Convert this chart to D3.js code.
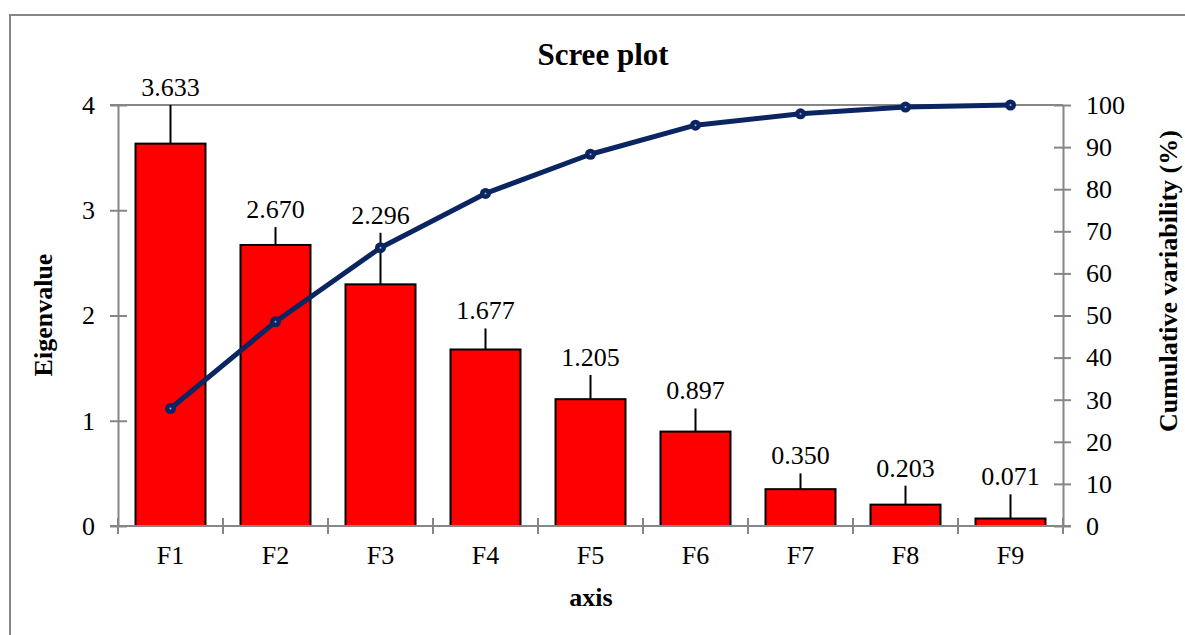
<!DOCTYPE html>
<html>
<head>
<meta charset="utf-8">
<script src="https://cdn.jsdelivr.net/npm/d3@7"></script>
<style>
  html, body { margin: 0; padding: 0; background: #fff; }
  svg { display: block; font-family: 'Liberation Serif', 'Times New Roman', serif; }
  .axis text { font-family: 'Liberation Serif', 'Times New Roman', serif; font-size: 26px; fill: #000; }
  .axis path, .axis line { stroke: #868686; stroke-width: 2; }
</style>
</head>
<body>
<svg id="chart" width="1185" height="635"></svg>
<script>
// Data
const factors = ['F1', 'F2', 'F3', 'F4', 'F5', 'F6', 'F7', 'F8', 'F9'];
const eigenvalues = [3.633, 2.670, 2.296, 1.677, 1.205, 0.897, 0.350, 0.203, 0.071];
const errorPlus = [0.367, 0.17, 0.49, 0.20, 0.23, 0.22, 0.15, 0.18, 0.23];
const cumulative = [27.9, 48.5, 66.1, 79.0, 88.3, 95.2, 97.9, 99.5, 100];
const leftTicks = [0, 1, 2, 3, 4];
const rightTicks = [0, 10, 20, 30, 40, 50, 60, 70, 80, 90, 100];

const svg = d3.select('#chart');

// outer frame (runs off the right and bottom edges)
svg.append('rect')
  .attr('x', 10).attr('y', 15)
  .attr('width', 1200).attr('height', 640)
  .attr('fill', 'none')
  .attr('stroke', '#868686')
  .attr('stroke-width', 2);

const plot = { left: 118, right: 1063, top: 105, bottom: 526 };

const x = d3.scaleBand()
  .domain(factors)
  .range([plot.left, plot.right])
  .paddingInner(1 / 3)
  .paddingOuter(1 / 6);
const y = d3.scaleLinear().domain([0, 4]).range([plot.bottom, plot.top]);
const y2 = d3.scaleLinear().domain([0, 100]).range([plot.bottom, plot.top]);

// top gridline
svg.append('line')
  .attr('x1', plot.left - 8).attr('x2', plot.right)
  .attr('y1', y(4)).attr('y2', y(4))
  .attr('stroke', '#868686').attr('stroke-width', 2);

// bars
svg.append('g')
  .selectAll('rect')
  .data(factors)
  .enter().append('rect')
  .attr('x', (d) => x(d))
  .attr('y', (d, i) => y(eigenvalues[i]))
  .attr('width', x.bandwidth())
  .attr('height', (d, i) => y(0) - y(eigenvalues[i]))
  .attr('fill', '#ff0000')
  .attr('stroke', '#000')
  .attr('stroke-width', 2);

// error bars (plus only)
svg.append('g')
  .selectAll('line')
  .data(factors)
  .enter().append('line')
  .attr('x1', (d) => x(d) + x.bandwidth() / 2)
  .attr('x2', (d) => x(d) + x.bandwidth() / 2)
  .attr('y1', (d, i) => y(eigenvalues[i]))
  .attr('y2', (d, i) => y(eigenvalues[i] + errorPlus[i]))
  .attr('stroke', '#000')
  .attr('stroke-width', 2);

// value labels
svg.append('g')
  .selectAll('text')
  .data(factors)
  .enter().append('text')
  .attr('x', (d) => x(d) + x.bandwidth() / 2)
  .attr('y', (d, i) => y(eigenvalues[i] + errorPlus[i]) - 9)
  .attr('text-anchor', 'middle')
  .style('font-size', '26px')
  .text((d, i) => eigenvalues[i].toFixed(3));

// left axis
const leftAxis = svg.append('g')
  .attr('class', 'axis')
  .attr('transform', `translate(${plot.left},0)`)
  .call(d3.axisLeft(y).tickValues(leftTicks).tickFormat(d3.format('d'))
    .tickSize(8).tickSizeOuter(0).tickPadding(15));
leftAxis.selectAll('.tick line').attr('x1', 9);

// right axis
const rightAxis = svg.append('g')
  .attr('class', 'axis')
  .attr('transform', `translate(${plot.right},0)`)
  .call(d3.axisRight(y2).tickValues(rightTicks).tickFormat(d3.format('d'))
    .tickSize(8).tickSizeOuter(0).tickPadding(15));
rightAxis.selectAll('.tick line').attr('x1', -9);

// bottom axis (labels at centres, ticks at band edges)
const bottomAxis = svg.append('g')
  .attr('class', 'axis')
  .attr('transform', `translate(0,${plot.bottom})`)
  .call(d3.axisBottom(x).tickSize(0).tickSizeOuter(0).tickPadding(20));
bottomAxis.select('.domain').attr('d', `M${plot.left - 8},0H${plot.right + 8}`);
const edges = factors.map((d) => x(d) - (x.step() - x.bandwidth()) / 2)
  .concat([plot.right]);
bottomAxis.selectAll('.edge')
  .data(edges)
  .enter().append('line')
  .attr('class', 'edge')
  .attr('x1', (d) => d).attr('x2', (d) => d)
  .attr('y1', -8).attr('y2', 8)
  .attr('stroke', '#868686').attr('stroke-width', 2);

// cumulative line
const lineX = (d, i) => x(factors[i]) + x.bandwidth() / 2;
svg.append('path')
  .datum(cumulative)
  .attr('fill', 'none')
  .attr('stroke', '#0b2462')
  .attr('stroke-width', 5)
  .attr('stroke-linejoin', 'round')
  .attr('d', d3.line().x(lineX).y((d) => y2(d)));

svg.append('g')
  .selectAll('circle')
  .data(cumulative)
  .enter().append('circle')
  .attr('cx', lineX)
  .attr('cy', (d) => y2(d))
  .attr('r', 5.5)
  .attr('fill', '#0b2462');

svg.append('g')
  .selectAll('circle')
  .data(cumulative)
  .enter().append('circle')
  .attr('cx', lineX)
  .attr('cy', (d) => y2(d))
  .attr('r', 1)
  .attr('fill', '#9fb0d0');

// titles
svg.append('text')
  .attr('x', 603).attr('y', 65)
  .attr('text-anchor', 'middle')
  .style('font-size', '31px').style('font-weight', 'bold')
  .text('Scree plot');

svg.append('text')
  .attr('x', 591).attr('y', 606)
  .attr('text-anchor', 'middle')
  .style('font-size', '26px').style('font-weight', 'bold')
  .text('axis');

svg.append('text')
  .attr('transform', 'translate(52,315) rotate(-90)')
  .attr('text-anchor', 'middle')
  .style('font-size', '26px').style('font-weight', 'bold')
  .text('Eigenvalue');

svg.append('text')
  .attr('transform', 'translate(1177,281) rotate(-90)')
  .attr('text-anchor', 'middle')
  .style('font-size', '26px').style('font-weight', 'bold')
  .text('Cumulative variability (%)');
</script>
</body>
</html>
